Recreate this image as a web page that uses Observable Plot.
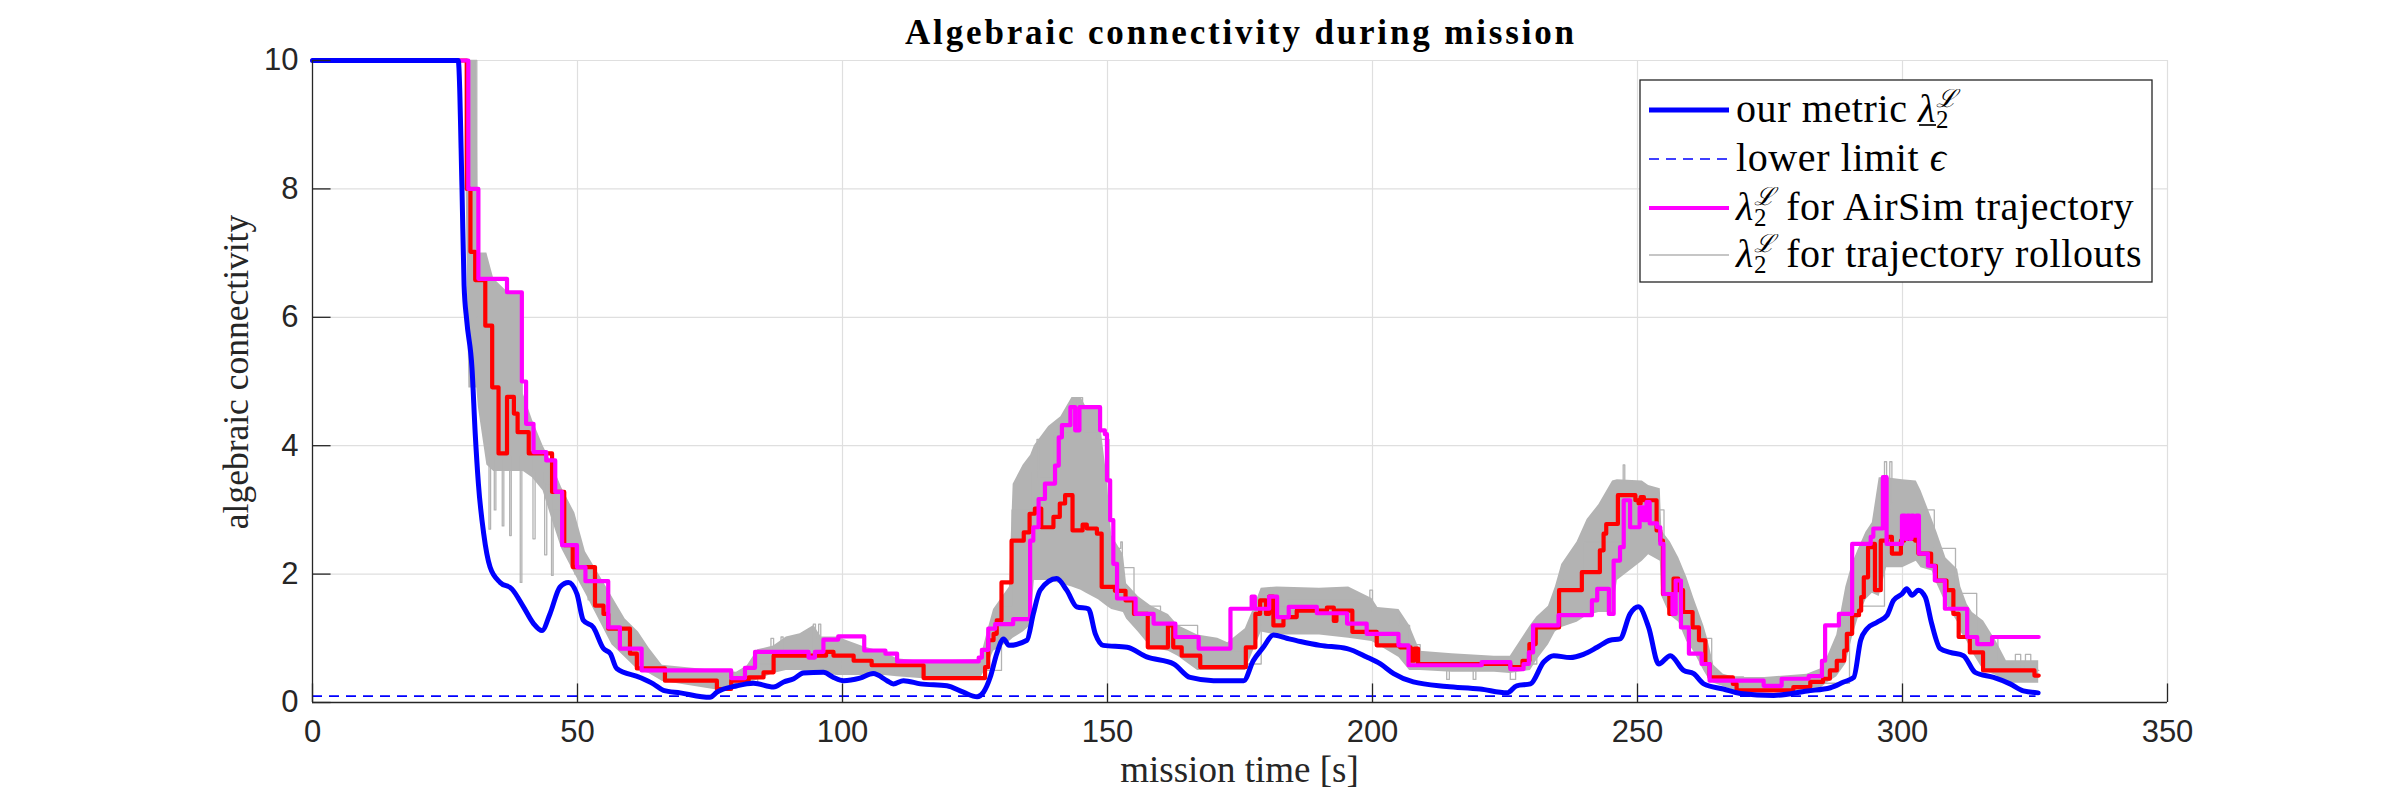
<!DOCTYPE html>
<html><head><meta charset="utf-8">
<script src="https://cdn.jsdelivr.net/npm/d3@7"></script>
<script src="https://cdn.jsdelivr.net/npm/@observablehq/plot@0.6"></script>
<style>
body{margin:0;background:#fff;}
text{white-space:pre;}
</style>
</head><body><div id="chart"></div>
<script>
// ---------------- data ----------------
const xTicks = [0, 50, 100, 150, 200, 250, 300, 350];
const yTicks = [0, 2, 4, 6, 8, 10];
const epsilon = 0.1;
const epsilonSpan = [0, 325.2];

// our metric (smooth) [t, value]
const ourMetric = [[0,10],[27.5,10],[28.2,8.03],[28.6,6.5],[29.1,5.95],[30.1,5.2],[30.7,4.19],[31.3,3.41],[32.3,2.63],[33.5,2.11],[35.4,1.87],[37.6,1.77],[39.8,1.49],[41.7,1.23],[43.3,1.12],[44.8,1.38],[46.7,1.80],[48.3,1.87],[49.9,1.69],[51.1,1.28],[53.0,1.17],[54.9,0.84],[56.2,0.76],[57.4,0.53],[61.8,0.39],[64.3,0.29],[66.2,0.19],[69.4,0.15],[75.0,0.08],[76.3,0.16],[80.1,0.26],[83.2,0.30],[87.0,0.24],[88.9,0.32],[90.8,0.37],[92.6,0.46],[96.4,0.47],[98.3,0.39],[100.2,0.34],[103.3,0.38],[105.8,0.45],[108.4,0.34],[109.6,0.29],[111.5,0.34],[114.7,0.29],[119.7,0.26],[122.8,0.16],[125.4,0.09],[126.6,0.16],[127.9,0.40],[129.1,0.76],[130.4,0.99],[131.4,0.89],[134.8,0.97],[136.0,1.38],[137.3,1.75],[140.4,1.93],[142.3,1.75],[144.2,1.49],[146.4,1.46],[147.7,1.07],[149.2,0.89],[153.7,0.86],[157.4,0.71],[162.5,0.60],[165.6,0.39],[170.0,0.34],[175.7,0.34],[177.5,0.65],[179.4,0.86],[181.3,1.05],[183.8,1.0],[186.4,0.95],[190.1,0.89],[195.2,0.84],[198.9,0.71],[201.5,0.60],[204.0,0.45],[207.7,0.32],[214.0,0.25],[220.3,0.21],[225.4,0.15],[227.2,0.26],[229.8,0.29],[232.3,0.63],[234.2,0.73],[237.3,0.70],[239.8,0.75],[242.4,0.86],[244.8,0.97],[246.7,0.99],[248.6,1.38],[250.2,1.49],[252.1,1.17],[254.0,0.60],[256.2,0.73],[258.7,0.50],[260.6,0.45],[262.5,0.29],[266.2,0.21],[269.4,0.14],[275.7,0.11],[282.0,0.18],[286.4,0.23],[288.9,0.32],[290.8,0.39],[292.1,0.97],[293.3,1.15],[295.2,1.25],[297.1,1.36],[298.3,1.59],[299.9,1.69],[300.8,1.77],[301.8,1.67],[303.0,1.75],[304.3,1.64],[305.5,1.23],[307.1,0.84],[309.0,0.78],[311.5,0.73],[313.7,0.47],[317.2,0.39],[320.3,0.29],[322.8,0.18],[325.6,0.15]];

// AirSim trajectory (stepwise) [t, value]
const airsim = [[0,10],[29.4,8.0],[31.3,6.6],[36.7,6.39],[39.5,5.0],[40.3,4.34],[41.7,3.9],[44.1,3.77],[45.8,3.28],[47.1,2.45],[49.9,2.11],[51.5,1.89],[55.8,1.17],[58.0,0.84],[62.1,0.5],[79.0,0.38],[81.6,0.54],[83.5,0.79],[93.6,0.70],[94.8,0.79],[96.4,0.98],[99.2,1.03],[104.1,0.81],[108.1,0.76],[110.3,0.64],[125.7,0.7],[126.3,0.82],[127.5,1.15],[128.8,1.22],[132.2,1.30],[135.4,2.52],[136.0,2.73],[137.0,3.17],[138.2,3.41],[140.1,3.69],[140.8,4.13],[141.4,4.32],[143.0,4.60],[143.9,4.24],[144.7,4.60],[148.6,4.24],[149.5,4.18],[149.9,3.46],[150.5,2.84],[151.1,2.16],[151.8,1.62],[155.3,1.38],[158.7,1.23],[162.8,1.02],[167.2,0.84],[173.2,1.46],[177.2,1.65],[177.8,1.46],[180.5,1.65],[182.0,1.33],[184.2,1.49],[189.5,1.39],[195.2,1.23],[198.9,1.07],[204.9,0.89],[206.8,0.58],[220.6,0.63],[226.0,0.52],[228.5,0.60],[229.5,0.78],[230.3,1.20],[235.1,1.36],[241.4,1.59],[242.4,1.77],[244.6,1.38],[245.5,2.21],[246.7,2.42],[247.4,3.15],[248.6,2.73],[250.4,3.04],[251.1,2.84],[251.7,3.12],[252.3,2.79],[253.7,2.73],[254.3,2.47],[254.9,1.69],[256.6,1.38],[257.2,1.90],[258.2,1.17],[259.7,0.76],[262.1,0.60],[263.6,0.34],[273.8,0.26],[277.2,0.37],[282.3,0.41],[284.8,0.65],[285.4,1.20],[288.0,1.38],[290.5,2.47],[294.0,2.58],[294.5,2.71],[296.3,3.51],[297.0,2.47],[299.9,2.91],[300.5,2.55],[300.9,2.91],[301.3,2.55],[301.7,2.91],[302.1,2.6],[302.6,2.91],[303.1,2.32],[304.8,2.13],[306.1,1.90],[308.0,1.46],[312.2,1.02],[314.1,0.91],[316.9,1.02],[325.7,1.02]];

// mean of rollouts (red, stepwise) [t, value]
const rolloutMean = [[0,10],[29.1,8.0],[29.8,7.02],[30.7,6.58],[32.6,5.87],[33.9,4.91],[35.1,3.88],[36.7,4.76],[38.0,4.5],[38.7,4.21],[40.8,3.88],[45.2,3.28],[47.5,2.45],[49.1,2.11],[53.3,1.51],[54.9,1.38],[55.8,1.15],[59.9,0.76],[61.2,0.53],[66.5,0.34],[76.3,0.21],[79.0,0.34],[82.3,0.39],[85.1,0.47],[87.0,0.73],[96.9,0.79],[98.3,0.73],[102.1,0.65],[105.5,0.58],[115.3,0.38],[126.9,0.55],[127.5,0.97],[128.5,1.07],[129.1,1.28],[130.0,1.87],[131.9,2.52],[134.2,2.65],[135.3,2.94],[136.3,3.02],[137.5,2.73],[139.8,2.89],[141.0,3.10],[142.0,3.23],[143.4,2.68],[145.3,2.77],[146.1,2.71],[148.0,2.63],[148.9,1.80],[151.4,1.74],[153.4,1.59],[155.0,1.38],[157.6,0.86],[161.4,1.20],[162.4,0.86],[164.0,0.73],[167.5,0.55],[176.1,0.86],[177.9,1.38],[178.8,1.59],[179.9,1.38],[180.5,1.65],[181.3,1.20],[183.2,1.33],[185.7,1.43],[191.4,1.48],[192.7,1.27],[193.2,1.43],[196.2,1.10],[200.8,0.89],[205.2,0.86],[207.2,0.65],[207.9,0.84],[208.6,0.60],[226.0,0.55],[228.3,0.65],[229.6,0.91],[230.8,1.17],[235.2,1.75],[239.5,2.03],[242.9,2.37],[243.6,2.63],[244.1,2.78],[246.3,3.23],[249.6,3.15],[250.2,3.1],[250.6,3.2],[251.2,3.15],[253.6,2.68],[254.3,2.52],[254.8,1.69],[256.0,1.38],[256.8,1.93],[257.7,1.75],[258.6,1.41],[260.4,1.17],[261.6,0.97],[262.8,0.60],[263.6,0.39],[268.0,0.29],[268.7,0.19],[279.4,0.24],[282.6,0.32],[285.0,0.37],[286.3,0.50],[287.6,0.65],[289.0,0.81],[289.5,1.07],[290.5,1.36],[291.8,1.43],[292.2,1.64],[292.7,1.95],[293.5,2.42],[294.5,2.47],[294.8,1.75],[295.9,2.52],[297.1,2.58],[298.0,2.32],[299.7,2.52],[300.3,2.89],[300.8,2.55],[301.2,2.89],[301.6,2.55],[302.0,2.89],[302.4,2.52],[303.0,2.32],[305.4,2.13],[306.3,1.90],[308.3,1.75],[309.6,1.38],[310.6,1.02],[312.7,0.78],[315.2,0.50],[324.9,0.42],[325.7,0.42]];

// spread of the trajectory rollouts [t, low, high]
const rolloutBand = [[29.0,8.0,10],[29.5,4.9,10],[31.0,4.9,10],[31.3,4.6,7.0],[32.9,3.7,7.0],[34.2,3.6,6.6],[36.7,3.6,6.4],[39.6,3.6,6.4],[39.8,3.6,4.8],[41.5,3.5,4.4],[43.5,3.3,4.0],[45.0,2.9,3.75],[47.0,2.4,3.35],[49.5,2.0,2.95],[51.5,1.7,2.35],[54.0,1.3,2.0],[56.5,0.9,1.65],[59.0,0.7,1.3],[61.5,0.5,1.1],[63.5,0.45,0.85],[66.0,0.33,0.58],[76.0,0.2,0.5],[80.0,0.22,0.47],[82.0,0.3,0.57],[84.0,0.35,0.82],[87.0,0.45,0.88],[89.4,0.5,1.02],[92.0,0.5,1.07],[94.6,0.45,1.2],[96.0,0.45,1.02],[99.0,0.42,1.02],[104.0,0.42,0.87],[108.0,0.42,0.78],[110.3,0.4,0.68],[115.3,0.37,0.64],[126.0,0.37,0.67],[127.5,0.6,1.15],[128.5,0.8,1.45],[131.5,0.95,1.8],[132.2,1.0,3.4],[134.1,1.1,3.7],[135.5,1.2,3.85],[136.2,1.9,4.0],[138.9,1.9,4.3],[141.2,1.85,4.45],[143.3,1.8,4.75],[145.0,1.75,4.75],[146.0,1.7,4.6],[148.3,1.6,4.6],[149.9,1.5,3.5],[150.8,1.45,2.6],[153.0,1.4,2.3],[153.6,1.3,1.85],[155.8,1.1,1.65],[158.3,0.85,1.5],[161.5,0.8,1.37],[163.3,0.72,1.2],[167.0,0.5,1.05],[170.8,0.5,1.0],[172.7,0.5,0.93],[176.0,0.5,1.15],[177.5,0.8,1.45],[179.0,1.1,1.78],[182.0,1.05,1.8],[190.0,1.05,1.78],[195.5,1.0,1.8],[199.9,0.95,1.62],[201.0,0.9,1.48],[205.0,0.7,1.45],[207.0,0.5,1.2],[209.0,0.5,0.8],[215.0,0.47,0.76],[223.0,0.47,0.72],[226.0,0.45,0.72],[229.8,0.5,1.2],[231.0,0.66,1.33],[233.2,0.9,1.5],[234.5,1.1,1.8],[235.7,1.17,2.15],[238.6,1.25,2.5],[240.5,1.35,2.85],[242.7,1.4,3.08],[245.3,1.4,3.45],[246.2,1.9,3.47],[250.9,2.2,3.45],[252.1,2.3,3.38],[254.3,2.2,3.33],[254.6,1.65,2.67],[256.2,1.35,2.5],[257.8,1.25,2.25],[259.3,0.95,1.95],[260.6,0.8,1.63],[262.5,0.5,1.2],[263.2,0.4,1.0],[264.4,0.3,0.58],[266.2,0.25,0.44],[268.5,0.18,0.39],[274.0,0.18,0.39],[282.0,0.2,0.44],[284.5,0.22,0.52],[285.7,0.3,0.68],[287.6,0.4,1.05],[289.3,0.6,1.8],[290.5,1.0,2.15],[291.6,1.3,2.37],[293.1,1.6,2.65],[294.3,1.7,2.8],[295.6,1.65,3.5],[297.0,2.1,3.5],[300.0,2.1,3.47],[302.6,2.2,3.45],[303.5,2.1,3.3],[305.6,2.05,2.85],[306.5,1.85,2.65],[308.2,1.54,2.25],[310.4,1.25,2.07],[311.0,1.1,1.8],[312.2,0.95,1.53],[313.2,0.78,1.4],[315.3,0.5,1.27],[317.7,0.42,0.95],[319.6,0.3,0.65],[325.7,0.3,0.65]];

// one individual rollout with its outlier spikes (stepwise) [t, value]
const rolloutSample = [[29.5,10],[31.0,6.0],[32.9,3.85],[33.3,2.7],[33.6,3.85],[34.3,3.0],[34.6,3.85],[35.8,2.75],[36.1,3.85],[37.2,2.6],[37.5,3.85],[39.2,1.87],[39.5,3.85],[41.6,2.55],[42.0,3.6],[43.8,2.3],[44.2,3.4],[45.1,1.98],[45.4,3.0],[46.5,2.6],[47.2,2.45],[49.5,2.0],[52,1.6],[55,1.2],[58,0.8],[62,0.5],[66,0.35],[76,0.3],[84,0.6],[86.5,1.0],[87.0,0.7],[88.4,1.02],[88.8,0.7],[94.5,1.22],[94.9,0.8],[95.5,1.22],[95.9,0.8],[100,0.5],[104,0.45],[110,0.5],[126,0.5],[130,1.5],[132,3.0],[135.5,3.6],[136.7,4.1],[137.0,3.5],[140,4.2],[144.3,4.75],[145.3,4.2],[148,4.1],[150.3,2.4],[152.5,2.5],[152.8,2.1],[155,1.5],[160,1.2],[167,0.8],[176,0.6],[179,1.5],[184,1.6],[199.5,1.75],[200,1.4],[205,1.2],[207,0.9],[209,0.6],[214,0.36],[214.5,0.6],[219,0.36],[219.5,0.6],[226,0.36],[227,0.6],[231,1.2],[236,1.9],[240,2.5],[247.3,3.7],[247.6,3.2],[252,3.0],[255,2.0],[258,1.6],[260,1.0],[264,0.4],[270,0.2],[284,0.3],[290,1.5],[296.6,3.75],[297,3.0],[297.6,3.75],[298,3.1],[303,3.0],[306,2.4],[310,1.7],[314,1.0],[318,0.6],[321.3,0.75],[322.3,0.5],[323.2,0.75],[324.2,0.5],[325.7,0.5]];

const titleText = "Algebraic connectivity during mission";
const xLabel = "mission time [s]";
const yLabel = "algebraic connectivity";

// ---------------- chart ----------------
const W = 2400, H = 800;
const frame = {left: 312, right: 2167, top: 60, bottom: 702};
const pts = a => a.map(([t, v]) => ({t, v}));
const band = rolloutBand.map(([t, lo, hi]) => ({t, lo, hi}));
const axisColor = "#262626", gridColor = "#dfdfdf";
const serif = "'Liberation Serif', 'Times New Roman', serif";
const sans = "'Liberation Sans', Arial, Helvetica, sans-serif";
// MATLAB tick length: 1% of the longest axis, drawn inward
const tickPx = 0.01 * (frame.right - frame.left);
const xTickLen = tickPx / (frame.bottom - frame.top) * (yTicks[yTicks.length-1] - yTicks[0]);
const yTickLen = tickPx / (frame.right - frame.left) * (xTicks[xTicks.length-1] - xTicks[0]);

const plot = Plot.plot({
  width: W, height: H,
  marginLeft: frame.left, marginRight: W - frame.right, marginTop: frame.top, marginBottom: H - frame.bottom,
  style: {background: "white", fontFamily: sans, overflow: "visible"},
  x: {domain: [xTicks[0], xTicks[xTicks.length-1]]},
  y: {domain: [yTicks[0], yTicks[yTicks.length-1]]},
  marks: [
    Plot.ruleX(xTicks.slice(1), {stroke: gridColor, strokeWidth: 1.2}),
    Plot.ruleY(yTicks.slice(1), {stroke: gridColor, strokeWidth: 1.2}),
    Plot.areaY(band, {x: "t", y1: "lo", y2: "hi", fill: "#b3b3b3"}),
    Plot.line(pts(rolloutSample), {x: "t", y: "v", curve: "step-after", stroke: "#b3b3b3", strokeWidth: 1.3}),
    Plot.line(pts(rolloutMean), {x: "t", y: "v", curve: "step-after", stroke: "#ff0000", strokeWidth: 4.2}),
    Plot.line(pts(airsim), {x: "t", y: "v", curve: "step-after", stroke: "#ff00ff", strokeWidth: 4.2}),
    Plot.ruleY([epsilon], {x1: epsilonSpan[0], x2: epsilonSpan[1], stroke: "#0000ff", strokeWidth: 1.6, strokeDasharray: "10,7"}),
    Plot.line(pts(ourMetric), {x: "t", y: "v", curve: "monotone-x", stroke: "#0000ff", strokeWidth: 5}),
    Plot.ruleX([xTicks[0]], {stroke: axisColor, strokeWidth: 1.3}),
    Plot.ruleY([yTicks[0]], {stroke: axisColor, strokeWidth: 1.3}),
    Plot.ruleX(xTicks, {y1: yTicks[0], y2: yTicks[0] + xTickLen, stroke: axisColor, strokeWidth: 1.3}),
    Plot.ruleY(yTicks, {x1: xTicks[0], x2: xTicks[0] + yTickLen, stroke: axisColor, strokeWidth: 1.3}),
    Plot.axisX({ticks: xTicks, tickSize: 0, tickPadding: 17, fontSize: 31, color: axisColor, label: null, tickFormat: d => String(d)}),
    Plot.axisY({ticks: yTicks, tickSize: 0, tickPadding: 14, fontSize: 31, color: axisColor, label: null, tickFormat: d => String(d)})
  ]
});
document.getElementById("chart").append(plot);

const svg = d3.select(plot);
const black = "#000000";
// title and axis labels
svg.append("text").attr("x", (frame.left + frame.right) / 2).attr("y", 44)
  .attr("text-anchor", "middle").attr("font-family", serif).attr("font-weight", "bold")
  .attr("font-size", 35).attr("fill", black).attr("textLength", 669).attr("lengthAdjust", "spacing").text(titleText);
svg.append("text").attr("x", (frame.left + frame.right) / 2).attr("y", 782)
  .attr("text-anchor", "middle").attr("font-family", serif).attr("font-size", 37).attr("fill", "#262626").text(xLabel);
svg.append("text").attr("transform", `translate(248,${(frame.top + frame.bottom) / 2 - 9}) rotate(-90)`)
  .attr("text-anchor", "middle").attr("font-family", serif).attr("font-size", 35.5).attr("fill", "#262626").text(yLabel);

// legend
const lg = svg.append("g").attr("font-family", serif).attr("fill", black).attr("text-anchor", "start");
lg.append("rect").attr("x", 1640).attr("y", 80).attr("width", 512).attr("height", 202)
  .attr("fill", "white").attr("stroke", axisColor).attr("stroke-width", 1.3);
const rows = [110, 159, 208, 255];
const sx0 = 1649, sx1 = 1729, tx = 1736, fs = 40, fsS = 25, ls = 0.6;
lg.append("line").attr("x1", sx0).attr("x2", sx1).attr("y1", rows[0]).attr("y2", rows[0]).attr("stroke", "#0000ff").attr("stroke-width", 5);
lg.append("line").attr("x1", sx0).attr("x2", sx1).attr("y1", rows[1]).attr("y2", rows[1]).attr("stroke", "#0000ff").attr("stroke-width", 1.6).attr("stroke-dasharray", "10,7");
lg.append("line").attr("x1", sx0).attr("x2", sx1).attr("y1", rows[2]).attr("y2", rows[2]).attr("stroke", "#ff00ff").attr("stroke-width", 4.2);
lg.append("line").attr("x1", sx0).attr("x2", sx1).attr("y1", rows[3]).attr("y2", rows[3]).attr("stroke", "#b3b3b3").attr("stroke-width", 1.3);

function measure(str, size, italic) {
  const t = lg.append("text").attr("font-size", size).attr("font-style", italic ? "italic" : "normal").attr("letter-spacing", ls).text(str);
  const w = t.node().getComputedTextLength();
  t.remove();
  return w;
}
function mathEntry(y, prefix, suffix, underline) {
  const b = y + 12;
  const wPre = prefix ? measure(prefix, fs, false) : 0;
  const wLam = measure("λ", fs, true);
  const wSup = measure("ℒ", fsS, true);
  const wSub = measure("2", fsS, false);
  const t = lg.append("text").attr("x", tx).attr("y", b).attr("font-size", fs).attr("letter-spacing", ls);
  if (prefix) t.append("tspan").text(prefix);
  t.append("tspan").attr("font-style", "italic").text("λ");
  t.append("tspan").attr("dy", -15).attr("font-size", fsS).attr("font-style", "italic").text("ℒ");
  t.append("tspan").attr("dx", -wSup).attr("dy", 21).attr("font-size", fsS).text("2");
  if (suffix) t.append("tspan").attr("dx", Math.max(0, wSup - wSub)).attr("dy", -6).text(suffix);
  if (underline) lg.append("line").attr("x1", tx + wPre + 1).attr("x2", tx + wPre + wLam).attr("y1", b + 3).attr("y2", b + 3).attr("stroke", black).attr("stroke-width", 1.7);
}
mathEntry(rows[0], "our metric ", null, true);
const l2 = lg.append("text").attr("x", tx).attr("y", rows[1] + 12).attr("font-size", fs).attr("letter-spacing", ls);
l2.append("tspan").text("lower limit ");
l2.append("tspan").attr("font-style", "italic").text("ϵ");
mathEntry(rows[2], null, " for AirSim trajectory", false);
mathEntry(rows[3], null, " for trajectory rollouts", false);
</script>
</body></html>
